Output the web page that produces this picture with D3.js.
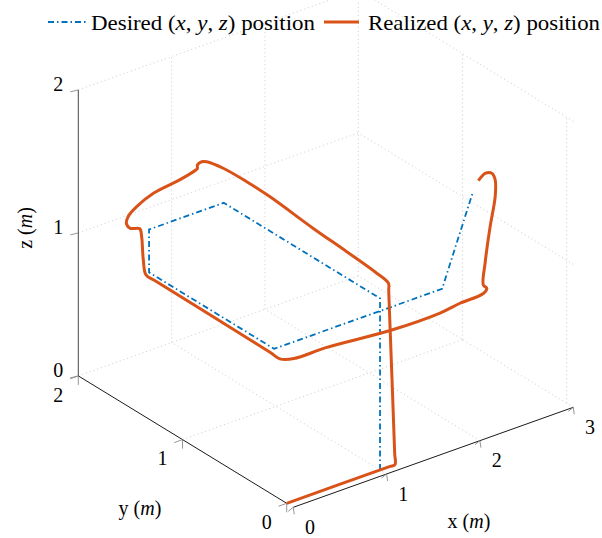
<!DOCTYPE html>
<html>
<head>
<meta charset="utf-8">
<script src="https://cdn.jsdelivr.net/npm/d3@7"></script>
<style>
  body { margin: 0; background: #fff; }
  svg { display: block; }
  text { font-family: "Liberation Serif", "Times New Roman", serif; fill: #000; }
</style>
</head>
<body>
<svg id="chart" width="602" height="538"></svg>
<script>
// Desired waypoints (m)
const desiredX = [1.00, 1.00, 1.00, 0.20, 0.20, 0.20, 2.00, 2.33];
const desiredY = [0.00, 0.00, 1.50, 1.50, 1.50, 0.30, 0.30, 0.30];
const desiredZ = [0.00, 1.20, 1.20, 1.20, 0.90, 0.90, 0.90, 1.50];

// Realized trajectory samples (m)
const realizedX = [0.000, 1.100, 1.160, 1.157, 1.093, 1.090, 1.090, 1.090, 1.090, 1.090,
                   1.090, 1.090, 1.090, 1.043, 0.997, 0.997, 0.980, 0.800, 0.503, 0.313,
                   0.211, 0.180, 0.200, 0.240, 0.240, 0.230, 0.220, 0.218, 0.205, 0.200,
                   0.300, 0.652, 1.349, 1.866, 2.080, 2.330, 2.367, 2.330, 2.349, 2.403,
                   2.457, 2.457, 2.421, 2.350, 2.277];
const realizedY = [0.000, 0.000, 0.000, 0.000, 0.000, 0.000, 0.112, 0.400, 0.721, 1.136,
                   1.360, 1.585, 1.744, 1.750, 1.750, 1.750, 1.750, 1.740, 1.730, 1.720,
                   1.710, 1.700, 1.683, 1.625, 1.607, 1.582, 1.547, 1.450, 0.340, 0.244,
                   0.200, 0.200, 0.200, 0.200, 0.200, 0.200, 0.200, 0.200, 0.200, 0.200,
                   0.200, 0.200, 0.200, 0.200, 0.200];
const realizedZ = [0.000, 0.000, 0.000, 0.080, 1.230, 1.285, 1.305, 1.327, 1.347, 1.383,
                   1.389, 1.383, 1.358, 1.366, 1.354, 1.330, 1.323, 1.302, 1.280, 1.235,
                   1.195, 1.159, 1.127, 1.140, 1.092, 0.943, 0.857, 0.856, 0.855, 0.855,
                   0.853, 0.849, 0.808, 0.806, 0.825, 0.835, 0.863, 0.895, 1.043, 1.286,
                   1.483, 1.600, 1.655, 1.671, 1.636];

const xTicks = [0, 1, 2, 3];
const yTicks = [0, 1, 2];
const zTicks = [0, 1, 2];

const xDomain = [0, 3], yDomain = [0, 2], zDomain = [0, 2];
const xAxisY = -0.063;   // the x axis line sits just in front of y = 0

// Axonometric projection: each data axis contributes a screen offset
const origin = [286.7, 503.3];
const xToH = d3.scaleLinear().domain(xDomain).range([0, 280]);
const xToV = d3.scaleLinear().domain(xDomain).range([0, -100]);
const yToH = d3.scaleLinear().domain(yDomain).range([0, -208.4]);
const yToV = d3.scaleLinear().domain(yDomain).range([0, -127.4]);
const zToV = d3.scaleLinear().domain(zDomain).range([0, -286]);

function project(x, y, z) {
  return [origin[0] + xToH(x) + yToH(y), origin[1] + xToV(x) + yToV(y) + zToV(z)];
}

const svg = d3.select("#chart");
const blue = "#0072BD", orange = "#D95319";

// ---- grid (dotted) on floor and the two back walls ----
const gridSegs = [];
const [x0, x1] = xDomain, [y0, y1] = yDomain, [z0, z1] = zDomain;
xTicks.filter(t => t > x0).forEach(t => gridSegs.push([[t, xAxisY, z0], [t, y1, z0]]));   // floor, const x
yTicks.filter(t => t > y0).forEach(t => gridSegs.push([[x0, t, z0], [x1, t, z0]]));       // floor, const y
xTicks.filter(t => t > x0).forEach(t => gridSegs.push([[t, y1, z0], [t, y1, z1]]));       // back wall y = 2
zTicks.filter(t => t > z0).forEach(t => gridSegs.push([[x0, y1, t], [x1, y1, t]]));
yTicks.filter(t => t < y1).forEach(t => gridSegs.push([[x1, t, z0], [x1, t, z1]]));       // back wall x = 3
zTicks.filter(t => t > z0).forEach(t => gridSegs.push([[x1, xAxisY, t], [x1, y1, t]]));

svg.append("g").selectAll("line").data(gridSegs).join("line")
  .attr("x1", d => project(...d[0])[0]).attr("y1", d => project(...d[0])[1])
  .attr("x2", d => project(...d[1])[0]).attr("y2", d => project(...d[1])[1])
  .attr("stroke", "#c4c4c4").attr("stroke-width", 0.9).attr("stroke-dasharray", "1 3");

// ---- axis lines ----
const axes = svg.append("g");
function seg(g, a, b, color, w) {
  const p = project(...a), q = project(...b);
  return g.append("line").attr("x1", p[0]).attr("y1", p[1]).attr("x2", q[0]).attr("y2", q[1])
    .attr("stroke", color || "#000").attr("stroke-width", w || 0.9);
}
seg(axes, [x0, xAxisY, z0], [x1, xAxisY, z0]);
seg(axes, [x0, y1, z0], [x0, y0, z0]);
seg(axes, [x0, y1, z0], [x0, y1, z1], "#333");

// ---- tick marks ----
const tickG = svg.append("g").attr("stroke", "#8a8a8a").attr("stroke-width", 0.9).attr("fill", "none");
function tick(p, offs) {
  offs.forEach(o => tickG.append("line").attr("x1", p[0]).attr("y1", p[1])
    .attr("x2", p[0] + o[0]).attr("y2", p[1] + o[1]));
}
xTicks.forEach(t => tick(project(t, xAxisY, 0), [[-5, 4], [1, 7]]));
yTicks.forEach(t => tick(project(0, t, 0), [[-8.3, 3], [0, 9]]));
zTicks.forEach(t => tick(project(0, 2, t), [[-8, 2]]));

// ---- tick labels ----
const fs = 20;
const lab = svg.append("g").attr("font-size", fs).attr("text-anchor", "middle");
xTicks.forEach(t => { const p = project(t, xAxisY, 0);
  lab.append("text").attr("x", p[0] + 16.7).attr("y", p[1] + 20).attr("dy", "0.34em").text(t); });
yTicks.forEach(t => { const p = project(0, t, 0);
  lab.append("text").attr("x", p[0] - 20).attr("y", p[1] + 19).attr("dy", "0.34em").text(t); });
zTicks.forEach(t => { const p = project(0, 2, t);
  lab.append("text").attr("x", p[0] - 20).attr("y", p[1] - 6).attr("dy", "0.34em").text(t); });

// ---- axis titles ----
function axisTitle(g, letter) {
  g.append("tspan").text(letter + " (");
  g.append("tspan").attr("font-style", "italic").text("m");
  g.append("tspan").text(")");
}
axisTitle(svg.append("text").attr("font-size", fs).attr("text-anchor", "middle")
  .attr("x", 469).attr("y", 522).attr("dy", "0.3em"), "x");
axisTitle(svg.append("text").attr("font-size", fs).attr("text-anchor", "middle")
  .attr("x", 140).attr("y", 509).attr("dy", "0.3em"), "y");
axisTitle(svg.append("text").attr("font-size", fs).attr("text-anchor", "middle")
  .attr("transform", "translate(26,228) rotate(-90)").attr("dy", "0.3em"), "z");

// ---- trajectories ----
const desired = desiredX.map((x, i) => project(x, desiredY[i], desiredZ[i]));
const realized = realizedX.map((x, i) => project(x, realizedY[i], realizedZ[i]));

svg.append("path").attr("d", d3.line()(desired))
  .attr("fill", "none").attr("stroke", blue).attr("stroke-width", 1.8)
  .attr("stroke-dasharray", "6 3 1.5 3");
svg.append("path").attr("d", d3.line().curve(d3.curveCatmullRom.alpha(0.5))(realized))
  .attr("fill", "none").attr("stroke", orange).attr("stroke-width", 3)
  .attr("stroke-linejoin", "round");

// ---- legend ----
const leg = svg.append("g").attr("font-size", 21);
leg.append("line").attr("x1", 48).attr("x2", 87).attr("y1", 22).attr("y2", 22)
  .attr("stroke", blue).attr("stroke-width", 1.8).attr("stroke-dasharray", "6 3 1.5 3");
function legendText(x, word, len) {
  const t = leg.append("text").attr("x", x).attr("y", 29.5)
    .attr("textLength", len).attr("lengthAdjust", "spacingAndGlyphs");
  t.append("tspan").text(word + " (");
  t.append("tspan").attr("font-style", "italic").text("x");
  t.append("tspan").text(", ");
  t.append("tspan").attr("font-style", "italic").text("y");
  t.append("tspan").text(", ");
  t.append("tspan").attr("font-style", "italic").text("z");
  t.append("tspan").text(") position");
}
legendText(91, "Desired", 224);
leg.append("line").attr("x1", 324).attr("x2", 359).attr("y1", 22).attr("y2", 22)
  .attr("stroke", orange).attr("stroke-width", 3);
legendText(368, "Realized", 232);
</script>
</body>
</html>
